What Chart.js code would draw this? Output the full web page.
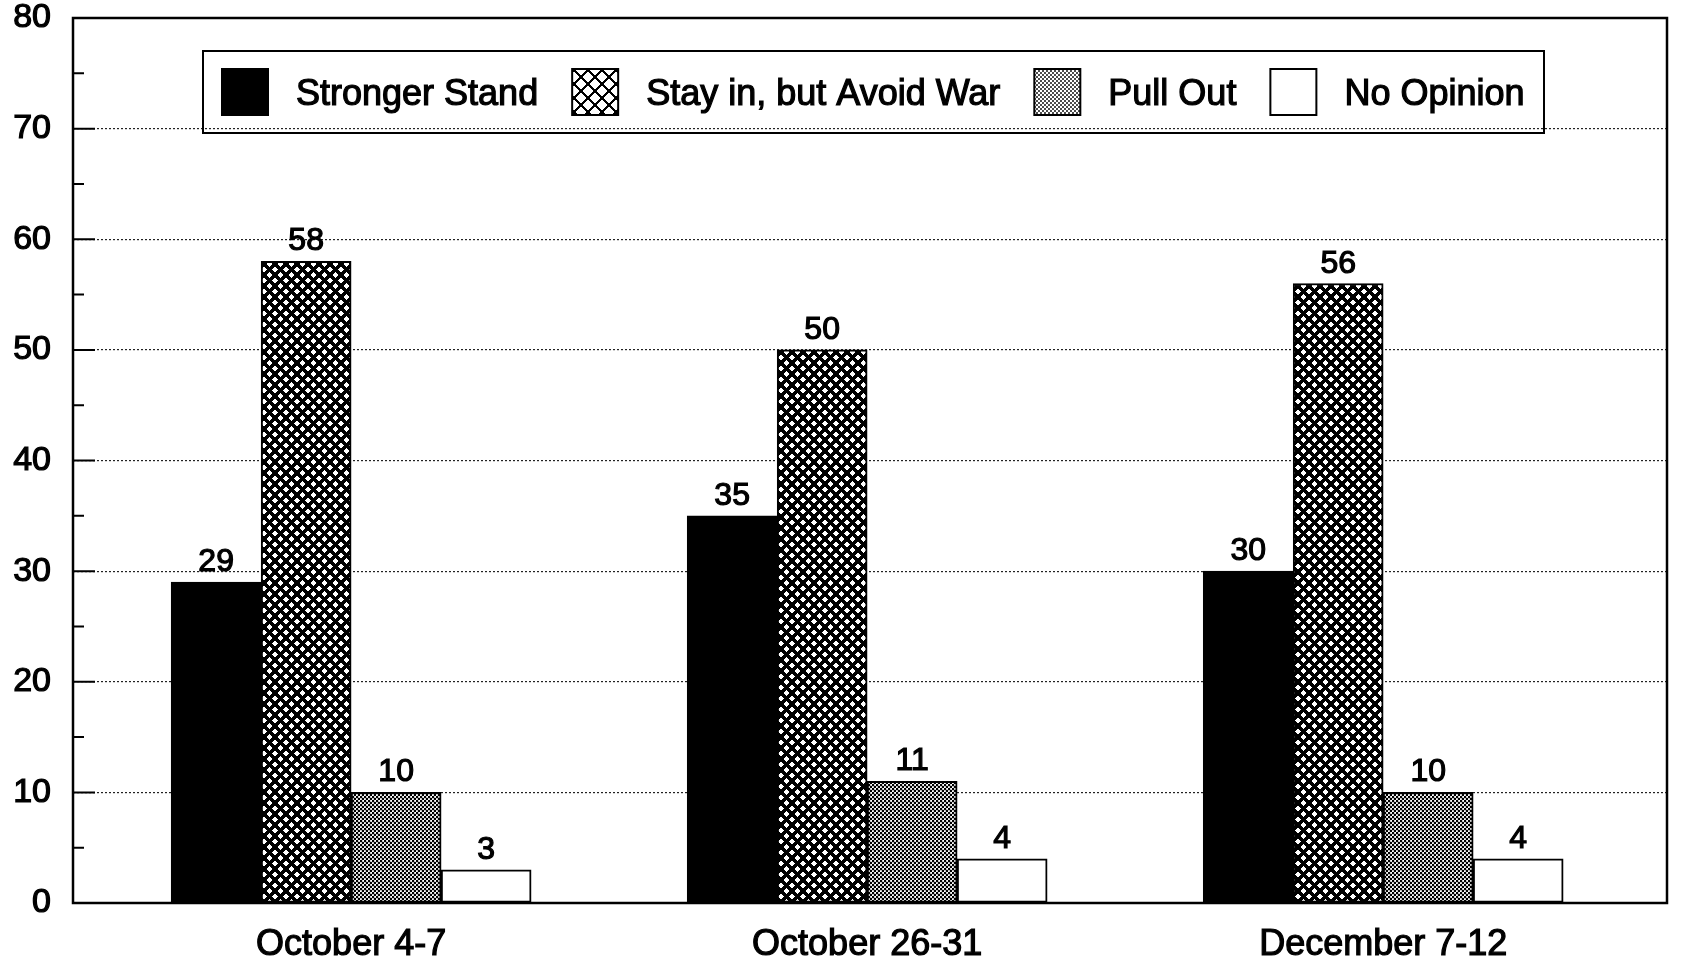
<!DOCTYPE html>
<html>
<head>
<meta charset="utf-8">
<title>Public opinion poll</title>
<script src="https://cdn.jsdelivr.net/npm/chart.js@4/dist/chart.umd.min.js"></script>
<style>
  html, body { margin: 0; padding: 0; background: #fff; }
  #wrap { width: 1681px; height: 960px; }
</style>
</head>
<body>
<div id="wrap"><canvas id="chart" width="1681" height="960"></canvas></div>
<script>
// Survey periods and responses (percent)
const categories = ['October 4-7', 'October 26-31', 'December 7-12'];
const seriesNames = ['Stronger Stand', 'Stay in, but Avoid War', 'Pull Out', 'No Opinion'];
const strongerStand = [29, 35, 30];
const stayInAvoidWar = [58, 50, 56];
const pullOut = [10, 11, 10];
const noOpinion = [3, 4, 4];
const yMajorTicks = [10, 20, 30, 40, 50, 60, 70];
const yMinorTicks = [5, 15, 25, 35, 45, 55, 65, 75];

const FONT = '"Liberation Sans", Arial, Helvetica, sans-serif';
const TEXT_STROKE = 1.2;
const canvas = document.getElementById('chart');
const ctx = canvas.getContext('2d');

// Crisp diagonal cross-hatch fill, built pixel by pixel
function crossHatch(pitch, lw) {
  const c = document.createElement('canvas');
  c.width = c.height = pitch;
  const g = c.getContext('2d');
  const img = g.createImageData(pitch, pitch);
  const half = lw / 2;
  const wrapDist = d => { const m = ((d % pitch) + pitch) % pitch; return Math.min(m, pitch - m) / Math.SQRT2; };
  for (let py = 0; py < pitch; py++) {
    for (let px = 0; px < pitch; px++) {
      const x = px + 0.5, y = py + 0.5;
      const ink = wrapDist(x - y) < half || wrapDist(x + y) < half;
      const i = (py * pitch + px) * 4;
      const v = ink ? 0 : 255;
      img.data[i] = img.data[i + 1] = img.data[i + 2] = v;
      img.data[i + 3] = 255;
    }
  }
  g.putImageData(img, 0, 0);
  return ctx.createPattern(c, 'repeat');
}

// Fine halftone dot fill
function halftone(r) {
  const s = 4;
  const c = document.createElement('canvas');
  c.width = c.height = s;
  const g = c.getContext('2d');
  g.fillStyle = '#fff';
  g.fillRect(0, 0, s, s);
  g.fillStyle = '#000';
  for (const [x, y] of [[1, 1], [3, 3]]) {
    g.beginPath(); g.arc(x, y, r, 0, Math.PI * 2); g.fill();
  }
  return ctx.createPattern(c, 'repeat');
}

const fills = ['#000', crossHatch(11, 3.1), halftone(1.3), '#fff'];
const legendFills = ['#000', crossHatch(14, 2.8), halftone(0.95), '#fff'];
const seriesValues = [strongerStand, stayInAvoidWar, pullOut, noOpinion];

const toPoints = arr => arr.map((v, i) => ({ x: i, y: v }));

const datasets = seriesNames.map((name, k) => ({
  label: name,
  data: toPoints(seriesValues[k]),
  backgroundColor: fills[k],
  borderColor: '#000',
  borderWidth: 2,
  borderSkipped: false
}));

// Value labels, axis ticks, frame and boxed legend
const decorations = {
  id: 'decorations',
  afterDatasetsDraw(chart) {
    const { ctx: c, chartArea: a, scales: { y } } = chart;
    c.save();

    // values above bars
    c.font = '32px ' + FONT;
    c.textAlign = 'center';
    c.textBaseline = 'alphabetic';
    c.fillStyle = '#000';
    c.strokeStyle = '#000';
    c.lineWidth = TEXT_STROKE;
    chart.data.datasets.forEach((ds, i) => {
      chart.getDatasetMeta(i).data.forEach((bar, j) => {
        const t = String(ds.data[j].y);
        c.fillText(t, bar.x, bar.y - 11);
        c.strokeText(t, bar.x, bar.y - 11);
      });
    });

    // inward tick marks on the value axis
    c.lineWidth = 2;
    c.beginPath();
    yMajorTicks.forEach(v => { const py = y.getPixelForValue(v); c.moveTo(a.left, py); c.lineTo(a.left + 22, py); });
    yMinorTicks.forEach(v => { const py = y.getPixelForValue(v); c.moveTo(a.left, py); c.lineTo(a.left + 11, py); });
    c.stroke();

    // plot frame
    c.lineWidth = 2.5;
    c.strokeRect(a.left, a.top, a.right - a.left, a.bottom - a.top);

    // legend
    const box = { x: 203, y: 51, w: 1341, h: 82 };
    c.lineWidth = 2;
    c.strokeRect(box.x, box.y, box.w, box.h);
    c.font = '36px ' + FONT;
    c.textAlign = 'left';
    c.textBaseline = 'middle';
    const sw = 46;
    const sy = 69;
    let x = 222;
    chart.data.datasets.forEach((ds, i) => {
      c.fillStyle = legendFills[i];
      c.fillRect(x, sy, sw, sw);
      c.lineWidth = 2;
      c.strokeRect(x, sy, sw, sw);
      const tx = x + sw + 28;
      c.fillStyle = '#000';
      c.lineWidth = TEXT_STROKE;
      c.fillText(ds.label, tx, sy + sw / 2 + 3);
      c.strokeText(ds.label, tx, sy + sw / 2 + 3);
      x = tx + c.measureText(ds.label).width + 34;
    });

    c.restore();
  }
};

new Chart(ctx, {
  type: 'bar',
  data: { datasets },
  options: {
    responsive: false,
    animation: false,
    layout: { padding: { left: 0, right: 14, top: 0, bottom: 0 } },
    plugins: { legend: { display: false }, tooltip: { enabled: false } },
    datasets: { bar: { barThickness: 90 } },
    scales: {
      x: {
        type: 'linear',
        min: -0.539,
        max: 2.55,
        offset: false,
        grid: { display: false },
        border: { display: false },
        afterBuildTicks(s) { s.ticks = categories.map((_, i) => ({ value: i })); },
        afterFit(s) { s.height = 57; s.paddingLeft = 0; s.paddingRight = 0; },
        ticks: {
          autoSkip: false,
          maxRotation: 0,
          padding: 12,
          color: '#000',
          textStrokeColor: '#000',
          textStrokeWidth: TEXT_STROKE,
          font: { family: FONT, size: 36 },
          callback: v => categories[v]
        }
      },
      y: {
        min: 0,
        max: 80,
        grid: { color: '#222', lineWidth: 1.2, drawTicks: false },
        border: { display: false, dash: [2, 2] },
        afterFit(s) { s.width = 73; s.paddingTop = 18; s.paddingBottom = 0; },
        ticks: {
          stepSize: 10,
          padding: 22,
          color: '#000',
          textStrokeColor: '#000',
          textStrokeWidth: TEXT_STROKE,
          font: { family: FONT, size: 34 }
        }
      }
    }
  },
  plugins: [decorations]
});
</script>
</body>
</html>
